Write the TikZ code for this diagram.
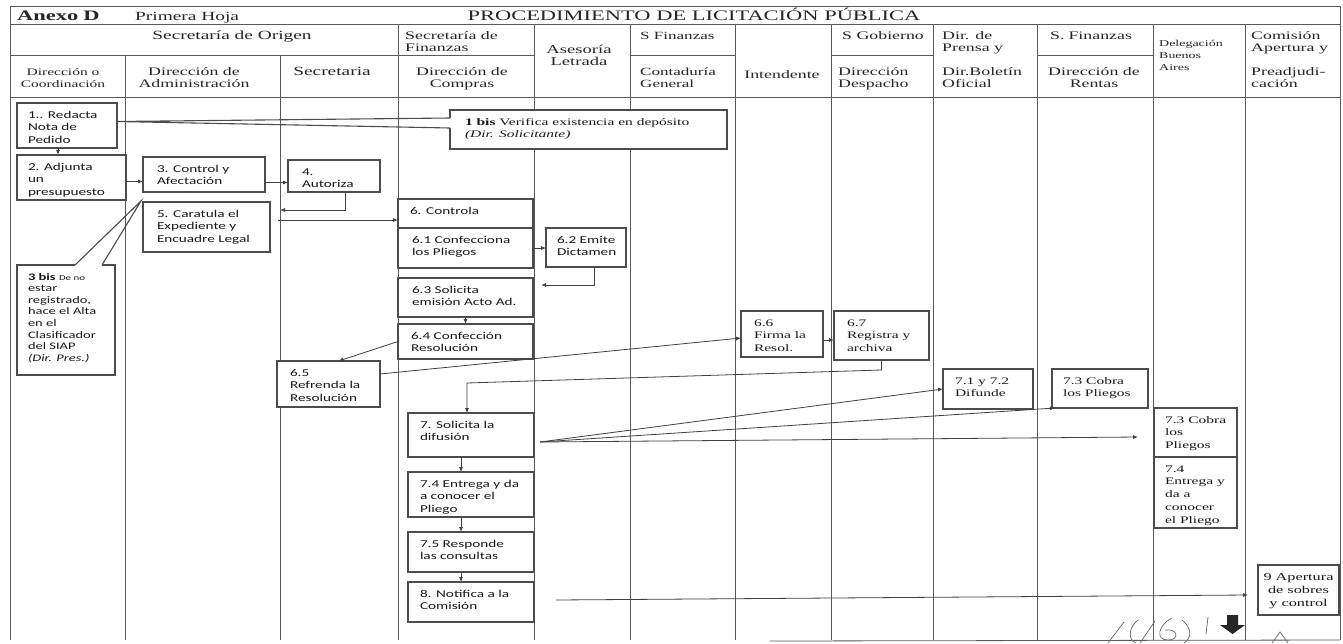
\documentclass[tikz,border=0pt]{standalone}
\usepackage{fontspec}
\newfontfamily\hdrfont[FakeStretch=1.55]{Liberation Serif}
\newfontfamily\bsans[FakeStretch=1.45]{Carlito}
\newfontfamily\bserif[FakeStretch=1.55]{Liberation Serif}
\usetikzlibrary{arrows.meta}
\newlength\firstbase
\setlength\firstbase{15pt}
\newcommand\bt[4][12]{\parbox[c][#3pt][t]{#2pt}{\raggedright\leftskip=#1pt\relax\leavevmode\rule{0pt}{\firstbase}#4\par}}
\newcommand\btc[3]{\parbox[c][#2pt][t]{#1pt}{\centering\leavevmode\rule{0pt}{\firstbase}#3\par}}
\tikzset{
  gridln/.style={draw=black!65, line width=0.8pt},
  bxbase/.style={draw=black!70, line width=1.1pt, fill=white, inner sep=0pt, outer sep=0pt, anchor=north west, text=black!90},
  sbox/.style={bxbase, font=\bsans\fontsize{10.5}{12.8}\selectfont},
  rbox/.style={bxbase, font=\bserif\fontsize{10}{12.8}\selectfont},
  arr/.style={draw=black!75, line width=0.8pt, -{Latex[length=5pt,width=4pt]}},
  wedgeln/.style={draw=black!70, line width=1.1pt, line join=miter},
  gapln/.style={draw=white, line width=1.6pt},
  hd/.style={inner sep=0pt, text=black!85, font=\hdrfont\fontsize{11.5}{13}\selectfont},
  hdl/.style={hd, anchor=base west},
  hdc/.style={hd, anchor=base},
}
\begin{document}
\begin{tikzpicture}[x=1pt,y=-1pt]
\useasboundingbox (0,0) rectangle (1343,643);
\fill[white] (0,0) rectangle (1343,643);
% ---------- frame and grid
\draw[gridln] (10,6) -- (1340,6);
\draw[gridln] (10,6) -- (10,640);
\draw[gridln] (1340,6) -- (1340,640);
\draw[gridln] (10,24) -- (1340,24);
\draw[gridln] (10,97) -- (1340,97);
\draw[gridln] (10,55) -- (534,55);
\draw[gridln] (630,55) -- (735,55);
\draw[gridln] (831,55) -- (933,55);
\draw[gridln] (1037,55) -- (1153,55);
\foreach \x in {398,534,630,735,831,933,1037,1153,1245} \draw[gridln] (\x,24) -- (\x,640);
\foreach \x in {125,280} \draw[gridln] (\x,55) -- (\x,640);
\draw[gridln] (770,641) -- (1340,640);
% ---------- title row
\node[hdl, font=\hdrfont\bfseries\fontsize{14.5}{16}\selectfont] (t1) at (17,20) {Anexo\hspace{5pt}D};
\node[hdl, font=\hdrfont\fontsize{12.5}{14}\selectfont] (t2) at (135,20) {Primera Hoja};
\node[hdc, font=\hdrfont\fontsize{14.5}{16}\selectfont] (t3) at (694,20) {PROCEDIMIENTO DE LICITACIÓN PÚBLICA};
% ---------- header cells
\node[hdc, font=\hdrfont\fontsize{12.5}{14}\selectfont] (h1) at (232,39) {Secretaría de Origen};
\node[hdc, font=\hdrfont\fontsize{10}{12}\selectfont] (h2) at (63,75) {Dirección o};
\node[hdc, font=\hdrfont\fontsize{10}{12}\selectfont] (h3) at (63,87) {Coordinación};
\node[hdc] (h4) at (194,75) {Dirección de};
\node[hdc] (h5) at (194,87) {Administración};
\node[hdc, font=\hdrfont\fontsize{12.5}{14}\selectfont] (h6) at (332,75) {Secretaria};
\node[hdl] (h7) at (405,39) {Secretaría de};
\node[hdl] (h8) at (405,51) {Finanzas};
\node[hdc] (h9) at (462,75) {Dirección de};
\node[hdc] (h10) at (462,87) {Compras};
\node[hdc, font=\hdrfont\fontsize{12}{14}\selectfont] (h11) at (579,53) {Asesoría};
\node[hdc, font=\hdrfont\fontsize{12}{14}\selectfont] (h12) at (579,65) {Letrada};
\node[hdl, font=\hdrfont\fontsize{11}{13}\selectfont] (h13) at (640,39) {S Finanzas};
\node[hdl, font=\hdrfont\fontsize{11}{13}\selectfont] (h14) at (640,75) {Contaduría};
\node[hdl, font=\hdrfont\fontsize{11}{13}\selectfont] (h15) at (640,87) {General};
\node[hdc] (h16) at (782,78) {Intendente};
\node[hdl] (h17) at (842,39) {S Gobierno};
\node[hdl] (h18) at (838,75) {Dirección};
\node[hdl] (h19) at (838,87) {Despacho};
\node[hdl] (h20) at (942,39) {Dir. de};
\node[hdl] (h21) at (942,51) {Prensa y};
\node[hdl] (h22) at (942,75) {Dir.Boletín};
\node[hdl] (h23) at (942,87) {Oficial};
\node[hdl] (h24) at (1050,39) {S.\hspace{4pt}Finanzas};
\node[hdc] (h25) at (1094,75) {Dirección de};
\node[hdc] (h26) at (1094,87) {Rentas};
\node[hdl, font=\hdrfont\fontsize{9}{11}\selectfont] (h27) at (1159,46) {Delegación};
\node[hdl, font=\hdrfont\fontsize{9}{11}\selectfont] (h28) at (1159,58) {Buenos};
\node[hdl, font=\hdrfont\fontsize{9}{11}\selectfont] (h29) at (1159,70) {Aires};
\node[hdl] (h30) at (1251,39) {Comisión};
\node[hdl] (h31) at (1251,51) {Apertura y};
\node[hdl] (h32) at (1251,75) {Preadjudi-};
\node[hdl] (h33) at (1251,87) {cación};
% ---------- process boxes
\node[sbox] (n1) at (17,103) {\bt[11]{100}{45}{1.. Redacta\\Nota de\\Pedido}};
\node[sbox] (n2) at (17,155) {\bt[11]{109}{45}{2. Adjunta\\un\\presupuesto}};
\node[sbox] (n3) at (143,157) {\bt[14]{122}{35}{3. Control y\\Afectación}};
\node[sbox] (n4) at (288,160) {\bt[14]{92}{32}{4.\\Autoriza}};
\node[sbox] (n5) at (143,202) {\bt[14]{127}{50}{5. Caratula el\\Expediente y\\Encuadre Legal}};
\node[rbox] (b1) at (450,110) {\bt[15]{277}{39}{\textbf{1 bis} Verifica existencia en depósito\\\textit{(Dir. Solicitante)}}};
\node[sbox, font=\bsans\fontsize{10}{11.6}\selectfont] (b3) at (17,265) {\bt[11]{98}{110}{\textbf{3 bis} {\fontsize{7.5}{9}\selectfont De no}\\estar\\registrado,\\hace el Alta\\en el\\Clasificador\\del SIAP\\\textit{(Dir. Pres.)}}};
\node[sbox] (n6) at (398,199) {\bt[12]{135}{29}{6. Controla}};
\node[sbox] (n61) at (398,228) {\bt[14]{135}{40}{6.1 Confecciona\\los Pliegos}};
\node[sbox] (n62) at (546,228) {\bt[11]{80}{39}{6.2 Emite\\Dictamen}};
\node[sbox] (n63) at (398,278) {\bt[14]{135}{39}{6.3 Solicita\\emisión Acto Ad.}};
\node[sbox] (n64) at (398,324) {\bt[13]{135}{35}{6.4 Confección\\Resolución}};
\node[sbox] (n65) at (277,361) {\bt[13]{103}{46}{6.5\\Refrenda la\\Resolución}};
\node[rbox] (n66) at (741,311) {\bt[13]{82}{46}{6.6\\Firma la\\Resol.}};
\node[rbox] (n67) at (834,311) {\bt[13]{95}{49}{6.7\\Registra y\\archiva}};
\node[sbox] (n7) at (408,413) {\bt[12]{126}{44}{7. Solicita la\\difusión}};
\node[sbox] (n74) at (408,472) {\bt[12]{126}{45}{7.4 Entrega y da\\a conocer el\\Pliego}};
\node[sbox] (n75) at (408,532) {\bt[12]{126}{40}{7.5 Responde\\las consultas}};
\node[sbox] (n8) at (408,582) {\bt[12]{126}{40}{8. Notifica a la\\Comisión}};
\node[rbox] (n71) at (943,369) {\bt[12]{90}{40}{7.1 y 7.2\\Difunde}};
\node[rbox] (n73) at (1052,369) {\bt[11]{96}{39}{7.3 Cobra\\los Pliegos}};
\node[rbox] (nd73) at (1154,408) {\bt[11]{83}{49}{7.3 Cobra\\los\\Pliegos}};
\node[rbox] (nd74) at (1154,457) {\bt[11]{83}{71}{7.4\\Entrega y\\da a\\conocer\\el Pliego}};
\node[rbox, font=\bserif\fontsize{10.5}{13}\selectfont] (n9) at (1258,565) {\btc{81}{50}{9\hspace{4pt}Apertura\\de sobres\\y control}};
% ---------- callout pointers of the "bis" notes
\coordinate (p1a) at ([yshift=-8pt]b1.north west);
\coordinate (p1b) at ([yshift=-18pt]b1.north west);
\coordinate (p1t) at ([yshift=4pt]n1.east);
\draw[gapln] (p1a) -- (p1b);
\draw[wedgeln] (p1a) -- (p1t) -- (p1b);
\coordinate (p3a) at ([xshift=58pt]b3.north west);
\coordinate (p3b) at ([xshift=85pt]b3.north west);
\coordinate (p3t) at ([xshift=-2pt,yshift=1pt]n5.north west);
\draw[gapln] (p3a) -- (p3b);
\draw[wedgeln] (p3a) -- (p3t) -- (p3b);
% ---------- connectors
\draw[arr] ([xshift=-9pt]n1.south) -- ([xshift=-9pt]n1.south |- n2.north);
\coordinate (a23) at ([yshift=-4pt]n2.east);
\draw[arr] (a23) -- (a23 -| n3.west);
\coordinate (a34) at ([yshift=-8pt]n3.east);
\draw[arr] (a34) -- (a34 -| n4.west);
\draw[arr] ([xshift=11pt]n4.south) |- ([xshift=10pt,yshift=-8pt]n5.north east);
\coordinate (a56) at ([xshift=8pt,yshift=-18pt]n5.north east);
\draw[arr] (a56) -- (a56 -| n6.west);
\draw[arr] (n61.east) -- (n61.east -| n62.west);
\draw[arr] ([xshift=8pt]n62.south) |- ([xshift=8pt,yshift=-7pt]n63.north east);
\draw[arr] (n63.south) -- (n64.north);
\draw[arr] (n64.west) -- ([xshift=10pt]n65.north);
\draw[arr] ([yshift=10pt]n65.east) -- ([yshift=-4pt]n66.west);
\coordinate (a67) at ([yshift=-6pt]n66.east);
\draw[arr] (a67) -- (a67 -| n67.west);
\coordinate (k1) at ([xshift=-4pt,yshift=30pt]n7.north);
\draw[arr] (n67.south) -- ++(0,10) -- (k1) -- (k1 |- n7.north);
\draw[arr] ([xshift=-10pt]n7.south) -- ([xshift=-10pt]n74.north);
\draw[arr] ([xshift=-10pt]n74.south) -- ([xshift=-10pt]n75.north);
\draw[arr] ([xshift=-10pt]n75.south) -- ([xshift=-10pt]n8.north);
\coordinate (s7) at ([xshift=6pt,yshift=-29pt]n7.north east);
\draw[arr] (s7) -- (n71.west);
\draw[arr] (s7) -- ([xshift=3pt]n73.south west);
\draw[arr] (s7) -- ([xshift=-16pt,yshift=-29pt]nd73.north west);
\draw[arr] ([xshift=22pt,yshift=-18pt]n8.north east) -- ([xshift=-10pt,yshift=-30pt]n9.north west);
% ---------- page-continuation arrow and handwriting
\fill[black!85] (1227,615) -- (1238,615) -- (1238,625) -- (1245,625) -- (1232.5,634) -- (1220,625) -- (1227,625) -- cycle;
\begin{scope}[draw=black!60, line width=0.7pt]
\draw (1108,643) -- (1124,622);
\draw (1138,620) .. controls (1128,628) and (1128,640) .. (1136,643);
\draw (1140,643) -- (1155,621);
\draw (1172,618) .. controls (1158,625) and (1155,640) .. (1168,640) .. controls (1180,640) and (1178,628) .. (1165,630);
\draw (1182,620) .. controls (1192,628) and (1192,638) .. (1184,643);
\draw (1208,617) -- (1206,634);
\draw (1272,643) -- (1280,632) -- (1288,643);
\end{scope}
\end{tikzpicture}
\end{document}
